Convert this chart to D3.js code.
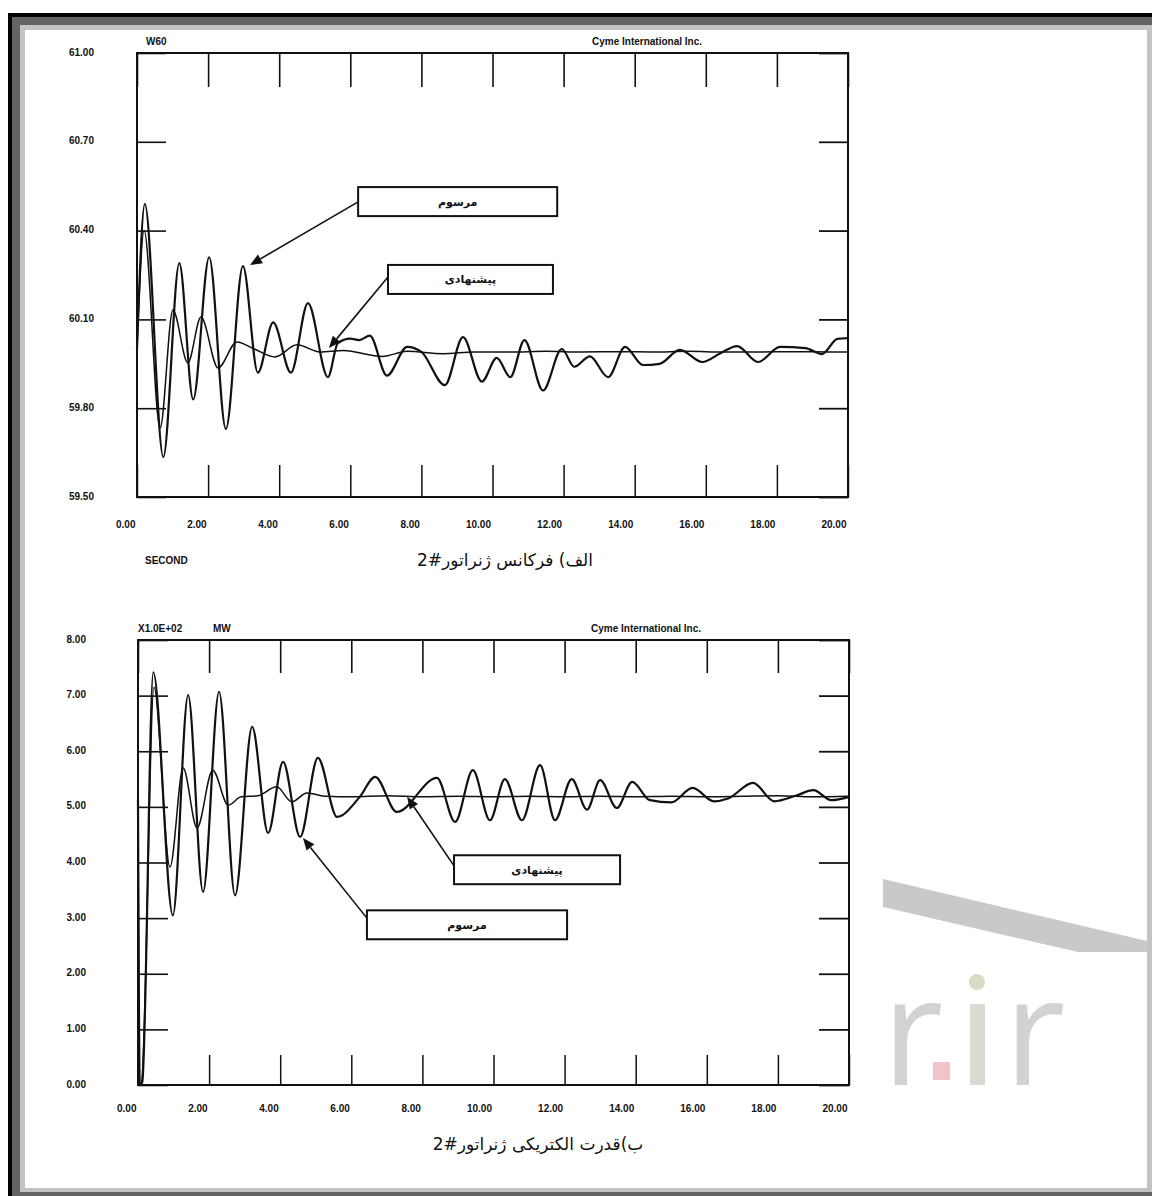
<!DOCTYPE html>
<html>
<head>
<meta charset="utf-8">
<script src="https://cdn.jsdelivr.net/npm/d3@7"></script>
<style>
  body { margin: 0; background: #fff; }
  svg { display: block; }
  .lbl { font-family: "Liberation Sans", Arial, sans-serif; font-weight: bold; font-size: 10px; fill: #111; }
  .fa { font-family: "DejaVu Sans", sans-serif; fill: #111; }
</style>
</head>
<body>
<svg id="chart" width="1152" height="1196"></svg>
<script>
// ---- Generator #2 frequency (Hz), time in seconds ----
const freqConvT = [0, 0.22, 0.74, 1.19, 1.58, 2.03, 2.5, 2.98, 3.4, 3.83, 4.33, 4.81, 5.37, 5.65, 6.0, 6.25, 6.55, 7.03, 7.6, 8.0, 8.66, 9.17, 9.7, 10.12, 10.5, 10.9, 11.42, 11.95, 12.3, 12.74, 13.25, 13.73, 14.23, 14.7, 15.27, 15.9, 16.4, 16.88, 17.47, 18.09, 18.8, 19.27, 19.7, 20];
const freqConvV = [60.0, 60.49, 59.635, 60.29, 59.83, 60.31, 59.73, 60.28, 59.92, 60.09, 59.92, 60.155, 59.905, 60.02, 60.035, 60.03, 60.045, 59.91, 60.007, 59.99, 59.878, 60.04, 59.89, 59.97, 59.905, 60.03, 59.86, 60.0, 59.94, 59.975, 59.905, 60.007, 59.946, 59.95, 59.997, 59.956, 59.985, 60.01, 59.956, 60.007, 60.003, 59.983, 60.034, 60.037];
const freqPropT = [0, 0.2, 0.65, 1.01, 1.43, 1.8, 2.28, 2.81, 3.3, 3.88, 4.5, 5.15, 5.8, 6.9, 7.6, 8.6, 9.5, 10.5, 11.5, 12.5, 13.5, 14.5, 15.5, 16.5, 17.5, 18.5, 19.5, 20];
const freqPropV = [60.0, 60.40, 59.733, 60.132, 59.953, 60.108, 59.936, 60.024, 60.0, 59.973, 60.014, 59.99, 59.995, 59.975, 59.992, 59.984, 59.99, 59.99, 59.992, 59.99, 59.991, 59.99, 59.992, 59.99, 59.99, 59.991, 59.99, 59.99];

// ---- Generator #2 electrical power (x100 MW) ----
const powerConvT = [0, 0.05, 0.12, 0.43, 0.98, 1.41, 1.83, 2.28, 2.73, 3.21, 3.66, 4.08, 4.56, 5.06, 5.6, 6.24, 6.67, 7.28, 8.41, 8.92, 9.42, 9.9, 10.32, 10.8, 11.31, 11.73, 12.2, 12.63, 13.0, 13.47, 13.9, 14.4, 15.0, 15.6, 16.2, 16.6, 17.3, 17.9, 18.5, 19.0, 19.5, 20];
const powerConvV = [5.12, 0.0, 0.05, 7.42, 3.05, 7.01, 3.47, 7.07, 3.41, 6.44, 4.53, 5.81, 4.46, 5.88, 4.82, 5.18, 5.54, 4.91, 5.52, 4.73, 5.66, 4.76, 5.5, 4.76, 5.75, 4.76, 5.5, 4.95, 5.48, 4.98, 5.45, 5.12, 5.08, 5.34, 5.1, 5.15, 5.43, 5.1, 5.2, 5.3, 5.12, 5.18];
const powerPropT = [0, 0.04, 0.1, 0.45, 0.9, 1.27, 1.66, 2.1, 2.54, 2.9, 3.37, 3.9, 4.33, 4.75, 5.3, 6.0, 7.0, 8.0, 9.0, 10.0, 11.0, 12.0, 13.0, 14.0, 15.0, 16.0, 17.0, 18.0, 19.0, 20.0];
const powerPropV = [5.15, 0.0, 0.05, 7.15, 3.92, 5.7, 4.62, 5.66, 5.03, 5.18, 5.2, 5.36, 5.09, 5.25, 5.19, 5.18, 5.2, 5.18, 5.19, 5.18, 5.19, 5.18, 5.19, 5.18, 5.19, 5.18, 5.19, 5.2, 5.18, 5.19];

// ---- tick labels ----
const timeTicks = [0, 2, 4, 6, 8, 10, 12, 14, 16, 18, 20];
const timeLabels = ["0.00", "2.00", "4.00", "6.00", "8.00", "10.00", "12.00", "14.00", "16.00", "18.00", "20.00"];
const freqTicks = [59.5, 59.8, 60.1, 60.4, 60.7, 61.0];
const freqLabels = ["59.50", "59.80", "60.10", "60.40", "60.70", "61.00"];
const powerTicks = [0, 1, 2, 3, 4, 5, 6, 7, 8];
const powerLabels = ["0.00", "1.00", "2.00", "3.00", "4.00", "5.00", "6.00", "7.00", "8.00"];

// ---- texts ----
const labelConv = "مرسوم";
const labelProp = "پیشنهادی";
const captionFreq = "الف) فرکانس ژنراتور#2";
const captionPower = "ب)قدرت الکتریکی ژنراتور#2";
const vendor = "Cyme International Inc.";

const svg = d3.select("#chart");

// ---- page frame (bevelled border) ----
svg.append("rect").attr("x", 8).attr("y", 13).attr("width", 1144).attr("height", 1183).attr("fill", "#050505");
svg.append("rect").attr("x", 12).attr("y", 17).attr("width", 1140).attr("height", 1179).attr("fill", "#646464");
svg.append("rect").attr("x", 20).attr("y", 25).attr("width", 1132).attr("height", 1167).attr("fill", "#c3c3c3");
svg.append("rect").attr("x", 25).attr("y", 30).attr("width", 1122).attr("height", 1158).attr("fill", "#ffffff");

// ---- faint site watermark ----
const wm = svg.append("g");
wm.append("path").attr("d", "M883,879 L1147,941 L1147,952 L1078,952 L883,907 Z").attr("fill", "#c9c9c9");
wm.append("text").attr("x", 882).attr("y", 1085).attr("font-family", "Open Sans, sans-serif")
  .attr("font-size", 150).attr("fill", "#d2d2d2").text("r");
wm.append("rect").attr("x", 933).attr("y", 1062).attr("width", 17).attr("height", 18).attr("fill", "#f2c4ca");
wm.append("rect").attr("x", 970).attr("y", 1004).attr("width", 15).attr("height", 81).attr("fill", "#d8dbcf");
wm.append("circle").attr("cx", 977).attr("cy", 982).attr("r", 8).attr("fill", "#d9dcc4");
wm.append("text").attr("x", 1004).attr("y", 1085).attr("font-family", "Open Sans, sans-serif")
  .attr("font-size", 150).attr("fill", "#d2d2d2").text("r");

// draw an arrow with a filled head from (x1,y1) to (x2,y2)
function arrow(g, x1, y1, x2, y2) {
  const ang = Math.atan2(y2 - y1, x2 - x1);
  const L = 12, W = 5;
  const bx = x2 - L * Math.cos(ang), by = y2 - L * Math.sin(ang);
  g.append("line").attr("x1", x1).attr("y1", y1).attr("x2", bx).attr("y2", by)
    .attr("stroke", "#111").attr("stroke-width", 1.6);
  const px = -Math.sin(ang) * W, py = Math.cos(ang) * W;
  g.append("path")
    .attr("d", `M${x2},${y2} L${bx + px},${by + py} L${bx - px},${by - py} Z`)
    .attr("fill", "#111");
}

function panel(cfg) {
  const g = svg.append("g");
  const x = d3.scaleLinear().domain([0, 20]).range([cfg.left, cfg.right]);
  const y = d3.scaleLinear().domain(cfg.yDomain).range([cfg.bottom, cfg.top]);

  // left axis: inward ticks with labels
  const ax = g.append("g").attr("transform", `translate(${cfg.left},0)`)
    .call(d3.axisLeft(y).tickValues(cfg.yTicks).tickSize(-cfg.yTick)
      .tickPadding(cfg.yPad).tickFormat((d, i) => cfg.yLabels[i]));
  ax.select(".domain").remove();
  ax.selectAll("line").attr("stroke", "#111").attr("stroke-width", 1.6);
  ax.selectAll("text").attr("class", "lbl").attr("font-size", null).attr("font-family", null).attr("dy", "0.2em");

  // right axis: inward ticks only
  const ar = g.append("g").attr("transform", `translate(${cfg.right},0)`)
    .call(d3.axisRight(y).tickValues(cfg.yTicks).tickSize(-cfg.yTick).tickFormat(""));
  ar.select(".domain").remove();
  ar.selectAll("line").attr("stroke", "#111").attr("stroke-width", 1.8);

  // bottom axis: inward ticks with labels ending at the tick
  const ab = g.append("g").attr("transform", `translate(0,${cfg.bottom})`)
    .call(d3.axisBottom(x).tickValues(timeTicks).tickSize(-cfg.xTickB)
      .tickPadding(cfg.xPad).tickFormat((d, i) => timeLabels[i]));
  ab.select(".domain").remove();
  ab.selectAll("line").attr("stroke", "#111").attr("stroke-width", 1.5);
  ab.selectAll("text").attr("class", "lbl").attr("font-size", null).attr("font-family", null)
    .attr("text-anchor", "end").attr("dx", -2);

  // top axis: inward ticks only
  const at = g.append("g").attr("transform", `translate(0,${cfg.top})`)
    .call(d3.axisTop(x).tickValues(timeTicks).tickSize(-cfg.xTickT).tickFormat(""));
  at.select(".domain").remove();
  at.selectAll("line").attr("stroke", "#111").attr("stroke-width", 1.6);

  // plot frame
  g.append("rect").attr("x", cfg.left).attr("y", cfg.top)
    .attr("width", cfg.right - cfg.left).attr("height", cfg.bottom - cfg.top)
    .attr("fill", "none").attr("stroke", "#111").attr("stroke-width", 2);

  // curves
  const line = d3.line().x(d => x(d[0])).y(d => y(d[1])).curve(d3.curveMonotoneX);
  cfg.series.forEach(s => {
    g.append("path").datum(d3.zip(s.t, s.v)).attr("d", line)
      .attr("fill", "none").attr("stroke", "#111").attr("stroke-width", s.w)
      .attr("stroke-linejoin", "round");
  });

  // header texts
  cfg.header.forEach(h => {
    g.append("text").attr("class", "lbl").attr("font-size", h.size || 10)
      .attr("x", cfg.left + h.dx).attr("y", cfg.top - 8)
      .attr("text-anchor", h.anchor || "start").text(h.text);
  });

  // callouts
  cfg.callouts.forEach(c => {
    const bx0 = x(c.box[0]), bx1 = x(c.box[1]);
    const by0 = y(c.box[2]), by1 = y(c.box[3]);
    arrow(g, bx0, y(c.from), x(c.to[0]), y(c.to[1]));
    g.append("rect").attr("x", bx0).attr("y", by0).attr("width", bx1 - bx0).attr("height", by1 - by0)
      .attr("fill", "#fff").attr("stroke", "#111").attr("stroke-width", 2);
    g.append("text").attr("class", "fa").attr("font-weight", "bold").attr("font-size", 11)
      .attr("x", (bx0 + bx1) / 2).attr("y", (by0 + by1) / 2 + 4)
      .attr("text-anchor", "middle").attr("direction", "rtl").text(c.text);
  });

  // caption
  g.append("text").attr("class", "fa").attr("font-size", 17)
    .attr("x", cfg.captionX).attr("y", cfg.captionY)
    .attr("text-anchor", "middle").attr("direction", "rtl").text(cfg.caption);
  return { g, x, y };
}

const freqPanel = panel({
  left: 137, right: 848, top: 53, bottom: 497,
  yDomain: [59.5, 61.0], yTicks: freqTicks, yLabels: freqLabels,
  yTick: 29, yPad: 43, xTickB: 32, xTickT: 34, xPad: 24,
  series: [{ t: freqPropT, v: freqPropV, w: 1.5 }, { t: freqConvT, v: freqConvV, w: 2.2 }],
  header: [{ text: "W60", dx: 9 }, { text: vendor, dx: 510, anchor: "middle", size: 9 }],
  callouts: [
    { text: labelConv, box: [6.22, 11.82, 60.547, 60.449], from: 60.497, to: [3.18, 60.284] },
    { text: labelProp, box: [7.06, 11.7, 60.284, 60.186], from: 60.243, to: [5.4, 60.003] }
  ],
  caption: captionFreq, captionX: 505, captionY: 566
});
freqPanel.g.append("text").attr("class", "lbl").attr("x", 145).attr("y", 564).text("SECOND");

const powerPanel = panel({
  left: 138, right: 849, top: 640, bottom: 1085,
  yDomain: [0, 8], yTicks: powerTicks, yLabels: powerLabels,
  yTick: 30, yPad: 52, xTickB: 30, xTickT: 33, xPad: 20,
  series: [{ t: powerPropT, v: powerPropV, w: 1.5 }, { t: powerConvT, v: powerConvV, w: 2.2 }],
  header: [{ text: "X1.0E+02", dx: 0 }, { text: "MW", dx: 75 }, { text: vendor, dx: 508, anchor: "middle", size: 9 }],
  callouts: [
    { text: labelProp, box: [8.89, 13.56, 4.13, 3.61], from: 3.94, to: [7.57, 5.18] },
    { text: labelConv, box: [6.44, 12.07, 3.14, 2.62], from: 3.0, to: [4.64, 4.44] }
  ],
  caption: captionPower, captionX: 538, captionY: 1150
});
</script>
</body>
</html>
